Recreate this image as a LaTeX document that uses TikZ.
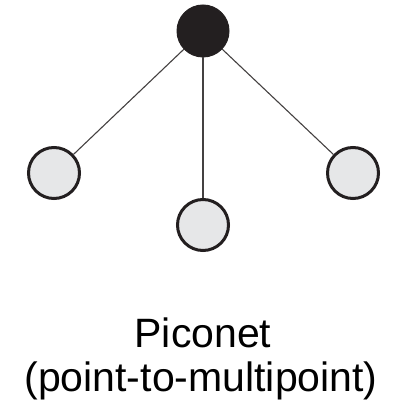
\documentclass[tikz,border=0pt]{standalone}
\usepackage{fontspec}
\setmainfont{Liberation Sans}
\definecolor{ink}{HTML}{231F20}
\definecolor{pale}{HTML}{E6E7E8}
\begin{document}
\begin{tikzpicture}[x=1pt, y=-1pt,
    master/.style={circle, fill=ink, draw=ink, line width=1pt, minimum size=52pt, inner sep=0pt},
    slave/.style={circle, fill=pale, draw=ink, line width=3pt, minimum size=51pt, inner sep=0pt},
    link/.style={draw=ink!85, line width=1.1pt},
    caption/.style={anchor=base, font=\fontsize{41}{46}\selectfont, inner sep=0pt}]
\useasboundingbox (0,0) rectangle (392,403);
    \node[master] (m) at (203,31) {};
    \node[slave] (s1) at (54,173) {};
    \node[slave] (s2) at (203,225) {};
    \node[slave] (s3) at (353,173) {};
    \draw[link] (m)--(s1);
    \draw[link] (m)--(s2);
    \draw[link] (m)--(s3);
\node[caption] (t1) at (203,347) {Piconet};
\node[caption] (t2) at (201,391) {(point-to-multipoint)};
    \end{tikzpicture}
\end{document}
